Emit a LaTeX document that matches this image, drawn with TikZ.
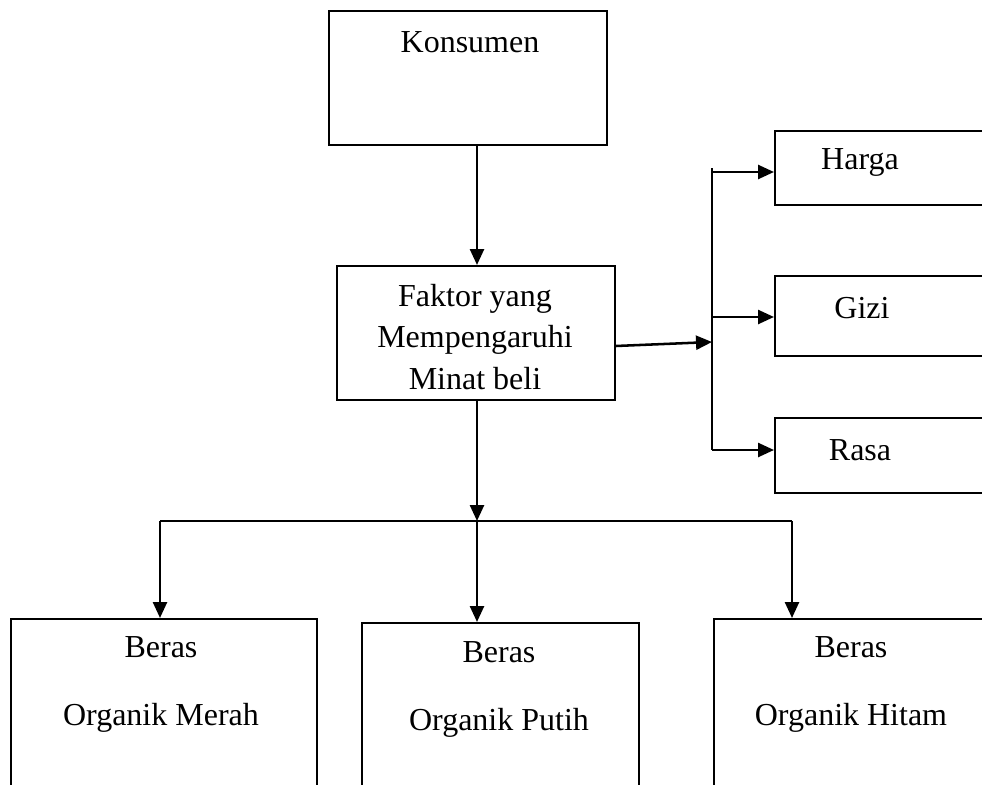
\documentclass[tikz,border=0pt]{standalone}
\usepackage{fontspec}
\setmainfont{Liberation Serif}
\usetikzlibrary{arrows.meta}
\tikzset{
  box/.style={draw, rectangle, line width=1.3pt, anchor=north west, inner sep=0pt},
  lbl/.style={align=center, inner sep=0pt, font=\fontsize{24}{31}\selectfont},
  arr/.style={line width=1.9pt, -{Triangle[length=12pt, width=10.5pt]}},
  bus/.style={line width=1.9pt}
}
\begin{document}
\begin{tikzpicture}[x=0.75pt, y=-0.75pt]
            \useasboundingbox (0,0) rectangle (982,785);
            \clip (0,0) rectangle (982,785);
            % Draw blocks
            \node[box, minimum width=278*0.75pt, minimum height=134*0.75pt] (konsumen) at (328,10) {};
            \node[box, minimum width=278*0.75pt, minimum height=134*0.75pt] (faktor) at (336,265) {};
            \node[box, minimum width=230*0.75pt, minimum height=74*0.75pt] (harga) at (774,130) {};
            \node[box, minimum width=230*0.75pt, minimum height=80*0.75pt] (gizi) at (774,275) {};
            \node[box, minimum width=230*0.75pt, minimum height=75*0.75pt] (rasa) at (774,417) {};
            \node[box, minimum width=306*0.75pt, minimum height=200*0.75pt] (merah) at (10,618) {};
            \node[box, minimum width=277*0.75pt, minimum height=200*0.75pt] (putih) at (361,622) {};
            \node[box, minimum width=300*0.75pt, minimum height=200*0.75pt] (hitam) at (713,618) {};
            % texts
            \node[lbl] (tKonsumen) at (470,42) {Konsumen};
            \node[lbl] (tFaktor) at (475,337) {Faktor yang\\Mempengaruhi\\Minat beli};
            \node[lbl] (tHarga) at (860,162) {Harga};
            \node[lbl] (tGizi) at (862,308) {Gizi};
            \node[lbl] (tRasa) at (860,450) {Rasa};
            \node[lbl, font=\fontsize{24}{51}\selectfont] (tMerah) at (161,684) {Beras\\Organik Merah};
            \node[lbl, font=\fontsize{24}{51}\selectfont] (tPutih) at (499,689) {Beras\\Organik Putih};
            \node[lbl, font=\fontsize{24}{51}\selectfont] (tHitam) at (851,684) {Beras\\Organik Hitam};
            % branch points
            \coordinate (split) at (712,342);
            \coordinate (fork) at (477,521);
            \coordinate (forkL) at (160,521);
            \coordinate (forkR) at (792,521);
            % connectors
            \draw[arr] (konsumen.south -| fork) -- (faktor.north -| fork);
            \draw[arr] (faktor.east |- 0,346) -- (split);
            \draw[bus] (712,168) -- (712,450);
            \draw[arr] (712,172) -- (harga.west |- 0,172);
            \draw[arr] (712,317) -- (gizi.west |- 0,317);
            \draw[arr] (712,450) -- (rasa.west |- 0,450);
            \draw[arr] (faktor.south -| fork) -- (fork);
            \draw[bus] (forkL) -- (forkR);
            \draw[arr] (forkL) -- (forkL |- merah.north);
            \draw[arr] (fork) -- (fork |- putih.north);
            \draw[arr] (forkR) -- (forkR |- hitam.north);
\end{tikzpicture}
\end{document}
